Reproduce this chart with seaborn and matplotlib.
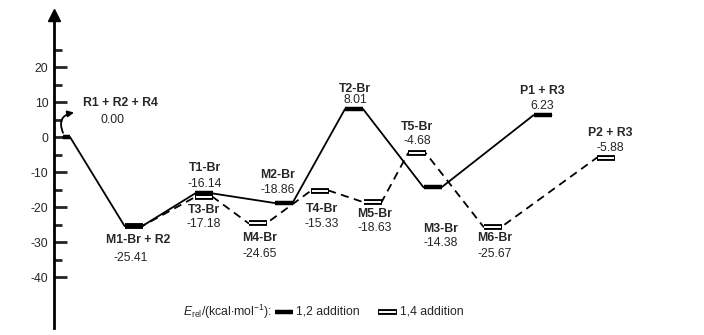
import matplotlib.pyplot as plt
import pandas as pd
import seaborn as sns

# Relative energies (kcal/mol) along the two reaction channels
path12_names = ["R1 + R2 + R4", "M1-Br + R2", "T1-Br", "M2-Br", "T2-Br", "M3-Br", "P1 + R3"]
path12_energy = [0.00, -25.41, -16.14, -18.86, 8.01, -14.38, 6.23]

path14_names = ["M1-Br + R2", "T3-Br", "M4-Br", "T4-Br", "M5-Br", "T5-Br", "M6-Br", "P2 + R3"]
path14_energy = [-25.41, -17.18, -24.65, -15.33, -18.63, -4.68, -25.67, -5.88]

# reaction coordinate (bar centres) for each state
path12_rc = [66.5, 133.5, 204, 283.5, 354, 432.5, 542.5]
path14_rc = [133.5, 204, 257.5, 320, 372.5, 417, 492.5, 606]

yticks_major = [-40, -30, -20, -10, 0, 10, 20]
yticks_minor = [-35, -25, -15, -5, 5, 15, 25]

sns.set_style("white")
plt.rcParams["font.family"] = ["Liberation Sans", "DejaVu Sans"]
plt.rcParams["axes.unicode_minus"] = False
plt.rcParams["mathtext.fontset"] = "custom"
plt.rcParams["mathtext.rm"] = "Liberation Sans"
plt.rcParams["mathtext.it"] = "Liberation Sans:italic"

fig = plt.figure(figsize=(7.04, 3.35), dpi=100)
ax = fig.add_axes([0, 0, 1, 1])
ax.set_xlim(0, 704)
ax.set_ylim(-335 / 3.5 + 137 / 3.5, 137 / 3.5)


def level_points(rc, energy, names):
    rows = []
    for x, e, n in zip(rc, energy, names):
        hw = 3.5 if n.startswith("R1") else 9
        rows.append({"x": x - hw, "E": e})
        rows.append({"x": x + hw, "E": e})
    return pd.DataFrame(rows)


df12 = level_points(path12_rc, path12_energy, path12_names)
df14 = level_points(path14_rc, path14_energy, path14_names)

sns.lineplot(df14, x="x", y="E", sort=False, estimator=None, color="k",
             lw=1.3, linestyle=(0, (4.5, 3)), ax=ax)
sns.lineplot(df12, x="x", y="E", sort=False, estimator=None, color="k",
             lw=1.3, ax=ax)

# energy levels
for i in range(0, len(df14), 2):
    seg = df14.iloc[i:i + 2]
    ax.plot(seg["x"], seg["E"], color="k", lw=4.2, solid_capstyle="butt")
    if i > 0:
        ax.plot(seg["x"] + [0.6, -0.6], seg["E"], color="white", lw=1.4,
                solid_capstyle="butt")
for i in range(0, len(df12), 2):
    seg = df12.iloc[i:i + 2]
    ax.plot(seg["x"], seg["E"], color="k", lw=3.2, solid_capstyle="butt")

# labels (name / value), offsets in energy units
fs = 8.8
label_off12 = {"R1 + R2 + R4": (54, 9.6, 4.8), "M1-Br + R2": (5, -4.0, -9.3),
               "T1-Br": (1, 7.2, 2.6), "M2-Br": (-6, 8.0, 3.7),
               "T2-Br": (1, 5.6, 2.5), "M3-Br": (8, -11.9, -16.0),
               "P1 + R3": (0, 6.8, 2.5)}
label_off14 = {"T3-Br": (0, -3.6, -7.7), "M4-Br": (2, -4.2, -8.8),
               "T4-Br": (2, -5.2, -9.5), "M5-Br": (2, -3.4, -7.5),
               "T5-Br": (0, 7.5, 3.4), "M6-Br": (2, -3.2, -7.7),
               "P2 + R3": (4, 7.0, 2.7)}

for names, rc, energy, offs in [(path12_names, path12_rc, path12_energy, label_off12),
                                (path14_names, path14_rc, path14_energy, label_off14)]:
    for n, x, e in zip(names, rc, energy):
        if n not in offs:
            continue
        dx, dn, dv = offs[n]
        ax.text(x + dx, e + dn, n, ha="center", va="center", fontsize=fs,
                fontweight="bold")
        vx = x + dx - (8 if n.startswith(("R1", "M1")) else 0)
        ax.text(vx, e + dv, f"{e:.2f}", ha="center", va="center", fontsize=fs)

# curved arrow to the reactant label
ax.annotate("", xy=(74, 7.0), xytext=(63, 1.2),
            arrowprops=dict(arrowstyle="-|>", color="k", lw=1.3,
                            connectionstyle="arc3,rad=-0.6", mutation_scale=9,
                            shrinkA=0, shrinkB=0))

# energy axis
ax.spines[["top", "right", "bottom"]].set_visible(False)
ax.spines["left"].set_position(("data", 54))
ax.spines["left"].set_bounds(-54.6, 34)
ax.spines["left"].set_linewidth(2)
ax.spines["left"].set_color("k")
ax.plot(54, 35, marker="^", color="k", ms=9, clip_on=False)
ax.set_xticks([])
ax.set_yticks(yticks_major)
ax.set_yticks(yticks_minor, minor=True)
ax.tick_params(axis="y", which="major", direction="in", length=9, width=2,
               labelsize=fs, pad=4, left=True)
ax.tick_params(axis="y", which="minor", direction="in", length=6, width=2,
               left=True)
ax.set_xlabel("")
ax.set_ylabel("")
if ax.get_legend():
    ax.get_legend().remove()

# legend
ly = -50.0
ax.text(183, ly, r"$\mathit{E}_{\mathrm{rel}}$/(kcal$\cdot$mol$^{-1}$):",
        ha="left", va="center", fontsize=fs)
ax.plot([275, 293], [ly, ly], color="k", lw=3.2, solid_capstyle="butt")
ax.text(296, ly, "1,2 addition", ha="left", va="center", fontsize=fs)
ax.plot([378, 397], [ly, ly], color="k", lw=4.2, solid_capstyle="butt")
ax.plot([378.6, 396.4], [ly, ly], color="white", lw=1.4, solid_capstyle="butt")
ax.text(400, ly, "1,4 addition", ha="left", va="center", fontsize=fs)

fig.savefig("out.png", dpi=100)
